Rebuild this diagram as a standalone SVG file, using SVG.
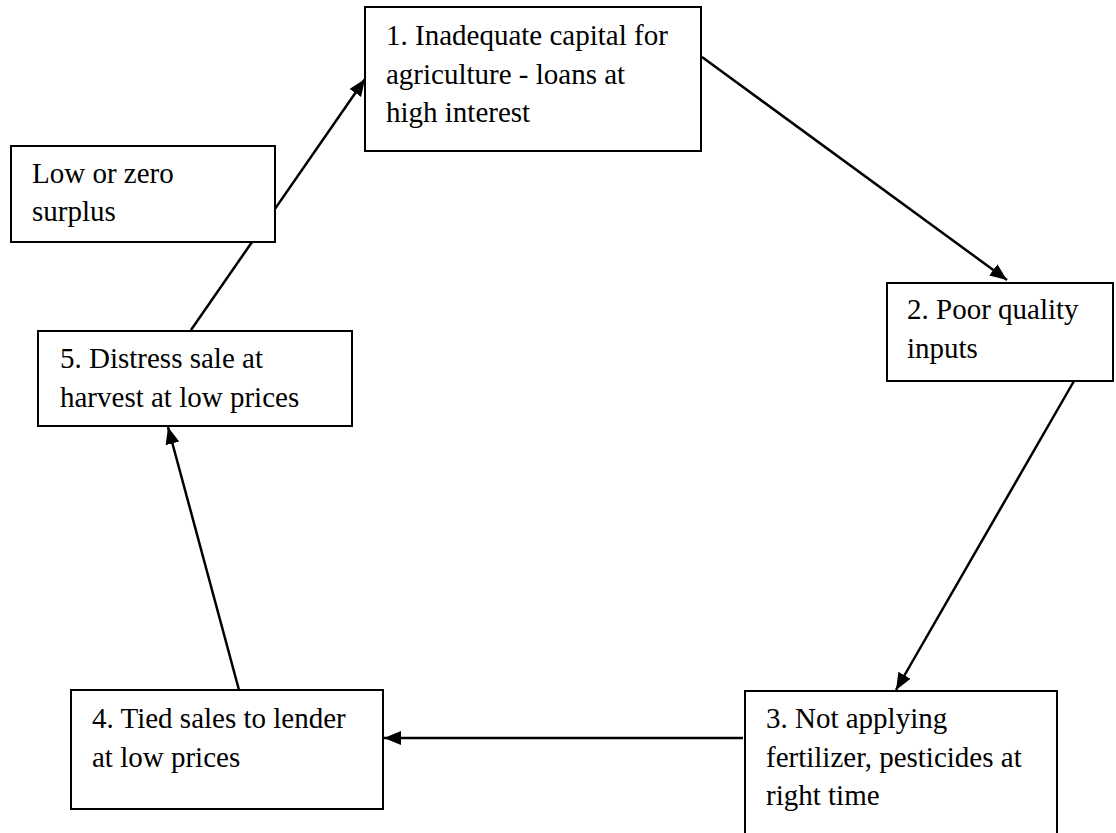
<svg xmlns="http://www.w3.org/2000/svg" width="1116" height="833" viewBox="0 0 1116 833">
<defs>
<style>
.box{fill:#fff;stroke:#000;stroke-width:2}
.t{font-family:"Liberation Serif","Times New Roman",serif;font-size:29px;fill:#000}
.c{stroke:#000;stroke-width:2.5;fill:none;marker-end:url(#ah)}
</style>
<marker id="ah" markerUnits="userSpaceOnUse" markerWidth="18" markerHeight="16" refX="17" refY="8" orient="auto">
<path d="M0,1 L17,8 L0,15 z" fill="#000"/>
</marker>
</defs>
<rect width="1116" height="833" fill="#fff"/>
<g id="connectors">
<line class="c" x1="702" y1="57" x2="1007" y2="280"/>
<line class="c" x1="1074" y1="381" x2="896" y2="690"/>
<line class="c" x1="743" y1="738" x2="384" y2="738"/>
<line class="c" x1="239" y1="690" x2="168" y2="427"/>
<line class="c" x1="191" y1="330" x2="365" y2="79"/>
</g>
<g id="node1">
<rect class="box" x="365" y="7" width="336" height="144"/>
<text class="t" x="386" y="45">1. Inadequate capital for</text>
<text class="t" x="386" y="84">agriculture - loans at</text>
<text class="t" x="386" y="122">high interest</text>
</g>
<g id="node2">
<rect class="box" x="887" y="283" width="226" height="98"/>
<text class="t" x="907" y="319">2. Poor quality</text>
<text class="t" x="907" y="358">inputs</text>
</g>
<g id="node3">
<rect class="box" x="745" y="691" width="312" height="150"/>
<text class="t" x="766" y="728">3. Not applying</text>
<text class="t" x="766" y="767">fertilizer, pesticides at</text>
<text class="t" x="766" y="805">right time</text>
</g>
<g id="node4">
<rect class="box" x="71" y="690" width="312" height="119"/>
<text class="t" x="92" y="728">4. Tied sales to lender</text>
<text class="t" x="92" y="767">at low prices</text>
</g>
<g id="node5">
<rect class="box" x="38" y="331" width="314" height="95"/>
<text class="t" x="60" y="368">5. Distress sale at</text>
<text class="t" x="60" y="407">harvest at low prices</text>
</g>
<g id="node6">
<rect class="box" x="11" y="146" width="264" height="96"/>
<text class="t" x="32" y="183">Low or zero</text>
<text class="t" x="32" y="221">surplus</text>
</g>
</svg>
